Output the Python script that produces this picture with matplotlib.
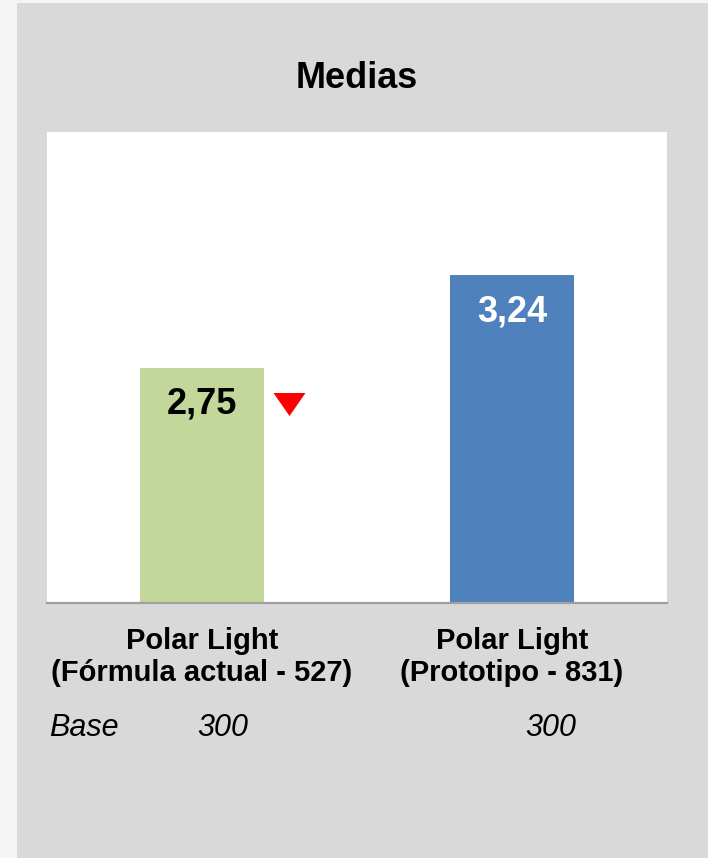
import matplotlib
matplotlib.use("Agg")
import matplotlib.pyplot as plt
from matplotlib.patches import Rectangle
import matplotlib.transforms as mtransforms

plt.rcParams['font.family'] = ['Liberation Sans', 'DejaVu Sans']

# Data
title = "Medias"
categories = ["Polar Light\n(Fórmula actual - 527)", "Polar Light\n(Prototipo - 831)"]
values = [2.75, 3.24]
value_labels = ["2,75", "3,24"]
bar_colors = ["#c4d79b", "#4f81bd"]
label_colors = ["black", "white"]
base_label = "Base"
bases = ["300", "300"]

W, H = 708, 858
fig = plt.figure(figsize=(W / 100, H / 100), dpi=100)
fig.patch.set_facecolor("#f5f5f5")
fig.patches.append(Rectangle((17 / W, 0), 1 - 17 / W, (H - 3) / H,
                             transform=fig.transFigure, facecolor="#d9d9d9",
                             edgecolor="none", zorder=-5))

ax = fig.add_axes([47 / W, 255 / H, 620 / W, 471 / H])
ax.set_zorder(1)
ax.set_facecolor("white")
x = list(range(len(categories)))
ax.bar(x, values, width=0.4, color=bar_colors, zorder=2)
ax.set_xlim(-0.5, 1.5)
ax.set_ylim(1.5, 4.0)
ax.set_yticks([])
for s in ["top", "left", "right"]:
    ax.spines[s].set_visible(False)
ax.spines["bottom"].set_color("#a0a0a0")
ax.spines["bottom"].set_linewidth(1.6)
ax.set_xticks(x)
ax.set_xticklabels(categories, fontsize=21, fontweight="bold", linespacing=1.22)
ax.tick_params(axis="x", length=0, pad=17)

for xi, v, lab, c in zip(x, values, value_labels, label_colors):
    ax.annotate(lab, (xi, v), xytext=(0, -33), textcoords="offset points",
                ha="center", va="baseline", fontsize=26, fontweight="bold",
                color=c, zorder=3)

# red down triangle next to first bar
tri = [(-1, 0.72), (1, 0.72), (0, -0.72), (-1, 0.72)]
offset = mtransforms.ScaledTranslation(86.5 / 100, -36 / 100, fig.dpi_scale_trans)
ax.plot([x[0]], [values[0]], marker=tri, markersize=23, color="#ff0000",
        markeredgewidth=0, linestyle="none", transform=ax.transData + offset,
        clip_on=False, zorder=3)

fig.text(357 / W, 1 - 78 / H, title, ha="center", va="center",
         fontsize=26, fontweight="bold")

fig.text(49 / W, 1 - 736 / H, base_label, ha="left", va="baseline",
         fontsize=22, style="italic")
for xp, b in zip([197 / W, 525 / W], bases):
    fig.text(xp, 1 - 736 / H, b, ha="left", va="baseline",
             fontsize=22, style="italic")

fig.savefig("out.png", dpi=100, facecolor=fig.get_facecolor())
